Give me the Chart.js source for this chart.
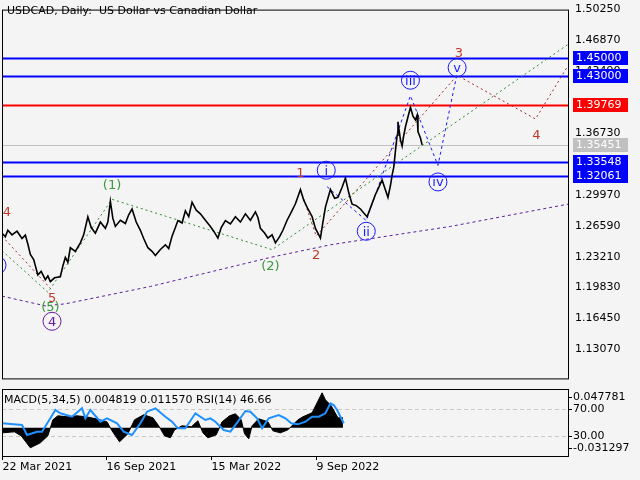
<!DOCTYPE html>
<html>
<head>
<meta charset="utf-8">
<script src="https://cdn.jsdelivr.net/npm/chart.js@4/dist/chart.umd.min.js"></script>
<style>
  html, body { margin: 0; padding: 0; background: #f4f4f4; }
  #wrap { position: relative; width: 640px; height: 480px; }
  #main { position: absolute; left: 0; top: 0; }
  #ind { position: absolute; left: 0; top: 387px; }
</style>
</head>
<body>
<div id="wrap">
  <canvas id="main" width="640" height="388"></canvas>
  <canvas id="ind" width="640" height="93"></canvas>
</div>
<script>
// ---- dados ----
const priceBars = [0,4,7,12,18,24,28,31,34,38,43,47,52,55,58,63,70,73,76,79,82,88,94,98,103,107,112,118,124,127,130,133,136,142,148,152,156,161,166,170,175,180,184,190,196,200,204,208,211,216,220,224,228,233,238,244,250,254,259,263,268,274,280,286,292,298,304,307,310,315,319,324,328,333,337,342,346,352,358,362,367,372,376,379,382,385,388,391,394,399,403,408,412,416,420,425,430,434,438,443,448,452,456,460,463,466,468,470,472,474,475,478,480,482,484,487,490,493,496,498,499,502,504];
const priceClose = [1.2578,1.2540,1.2610,1.2560,1.2600,1.2520,1.2557,1.2460,1.2345,1.2290,1.2122,1.2160,1.2070,1.2110,1.2048,1.2090,1.2101,1.2220,1.2313,1.2260,1.2419,1.2380,1.2472,1.2560,1.2758,1.2640,1.2578,1.2700,1.2631,1.2700,1.2928,1.2740,1.2652,1.2720,1.2684,1.2780,1.2843,1.2700,1.2610,1.2520,1.2419,1.2380,1.2334,1.2400,1.2451,1.2410,1.2546,1.2640,1.2716,1.2690,1.2822,1.2760,1.2917,1.2830,1.2790,1.2720,1.2652,1.2600,1.2525,1.2640,1.2716,1.2680,1.2758,1.2700,1.2790,1.2720,1.2811,1.2750,1.2631,1.2580,1.2525,1.2560,1.2472,1.2540,1.2610,1.2720,1.2790,1.2900,1.3055,1.2940,1.2843,1.2760,1.2631,1.2580,1.2525,1.2700,1.2864,1.2960,1.3055,1.2960,1.2970,1.3080,1.3182,1.3020,1.2896,1.2880,1.2843,1.2800,1.2758,1.2880,1.3002,1.3080,1.3161,1.3050,1.2970,1.3100,1.3214,1.3300,1.3479,1.3650,1.3797,1.3600,1.3532,1.3650,1.3743,1.3850,1.3955,1.3860,1.3817,1.3870,1.3690,1.3620,1.3545];

const levelsBlue = [1.45000, 1.43000, 1.33548, 1.32061];
const levelRed = 1.39769;
const levelLast = 1.35451;
const priceTicks = [1.50250,1.46870,1.43490,1.36730,1.29970,1.26590,1.23210,1.19830,1.16450,1.13070];

// linhas de ondas
const purpleBars = [0,52,76,178,322,394,538,679];
const purpleVals = [1.1889,1.1783,1.1805,1.1995,1.2313,1.2451,1.2652,1.2896];
const greenBars = [0,55,132,324,679];
const greenVals = [1.2387,1.1932,1.2949,1.2398,1.4644];
const brownBars = [0,58,100,358,377,546,640,679];
const brownVals = [1.2546,1.1974,null,1.3055,1.2546,1.4305,1.3828,1.4411];
const blueBars = [390,437,490,523,546];
const blueVals = [1.3087,1.2716,1.4082,1.3320,1.4326];

// rótulos: texto, barra, preço, cor, círculo
const waveLabels = [
  ['4', 6, 1.2811, '#c0392b', false],
  ['5', 60, 1.1868, '#c0392b', false],
  ['(5)', 58, 1.1773, '#3a9a3a', false],
  ['4', 60, 1.1614, '#6a1b9a', true],
  ['v', -6, 1.2228, '#1a1aff', true],
  ['(1)', 132, 1.3108, '#3a9a3a', false],
  ['(2)', 322, 1.2228, '#3a9a3a', false],
  ['1', 358, 1.3245, '#c0392b', false],
  ['2', 377, 1.2345, '#c0392b', false],
  ['i', 389, 1.3267, '#1a1aff', true],
  ['ii', 437, 1.2599, '#1a1aff', true],
  ['iii', 490, 1.4252, '#1a1aff', true],
  ['iv', 523, 1.3139, '#1a1aff', true],
  ['v', 546, 1.4389, '#1a1aff', true],
  ['3', 548, 1.4559, '#c0392b', false],
  ['4', 641, 1.3658, '#c0392b', false]
];

// indicadores
const macdBars = [0,15,23,34,46,55,61,67,78,90,101,113,126,132,141,151,159,170,181,188,195,202,207,216,227,235,241,247,257,264,273,280,287,291,296,300,308,319,325,334,343,355,361,372,384,388,395,403,409];
const macdVals = [-0.0078,-0.0062,-0.0124,-0.031,-0.0233,-0.0124,0.0124,0.0186,0.0171,0.0186,0.0171,0.014,0.0093,-0.0047,-0.0217,-0.0093,0.0124,0.0202,0.0155,0.0031,-0.0124,-0.0155,-0.0031,0.0031,0.0016,0.0109,-0.0078,-0.0155,-0.0109,0.0093,0.0186,0.0217,0.0124,-0.0093,-0.0171,0.0031,0.014,0.0093,-0.0047,-0.0078,-0.0031,0.0124,0.0171,0.0233,0.0543,0.0434,0.0341,0.0155,0.0155];
const rsiBars = [0,24,30,42,48,58,64,70,84,96,100,106,118,126,138,146,156,166,174,184,196,204,211,220,232,244,250,256,266,274,283,292,298,306,312,320,332,340,347,355,364,372,380,388,394,398,402,406,410];
const rsiVals = [48.8,46.3,31.5,36.4,36.4,56.2,68.5,63.6,58.6,71,56.2,68.5,51.2,56.2,48.8,36.4,31.5,48.8,66,71,58.6,51.2,41.4,41.4,63.6,53.7,56.2,51.2,38.9,36.4,51.2,67,66,56.2,41.4,56.2,61.1,56.2,48.8,47.3,51.2,58.6,58.6,63.6,78.4,75.9,68.5,58.6,48.8];

const dateBars = [0,125,251,377];
const dateLabels = ['22 Mar 2021','16 Sep 2021','15 Mar 2022','9 Sep 2022'];

const FONT = '"DejaVu Sans", "Liberation Sans", sans-serif';
const pts = (xs, ys) => xs.map((x, i) => ({ x: x, y: ys[i] }));

// eixo direito com largura fixa
function fixWidth(w) { return function (s) { s.width = w; }; }

// ---- plugin do gráfico principal ----
const mainDecor = {
  id: 'mainDecor',
  beforeDraw(chart) {
    const { ctx } = chart;
    ctx.save();
    ctx.fillStyle = '#f4f4f4';
    ctx.fillRect(0, 0, chart.width, chart.height);
    ctx.restore();
  },
  beforeDatasetsDraw(chart) {
    const { ctx, chartArea: a, scales: { y } } = chart;
    ctx.save();
    const hline = (v, c, w) => {
      const py = Math.round(y.getPixelForValue(v)) + 0.5;
      ctx.strokeStyle = c; ctx.lineWidth = w;
      ctx.beginPath(); ctx.moveTo(a.left, py); ctx.lineTo(a.right, py); ctx.stroke();
    };
    hline(levelLast, '#c0c0c0', 1);
    levelsBlue.forEach(v => hline(v, '#0000ff', 2));
    hline(levelRed, '#ff0000', 2);
    ctx.restore();
  },
  afterDraw(chart) {
    const { ctx, chartArea: a, scales: { x, y } } = chart;
    ctx.save();
    // rótulos das ondas
    ctx.beginPath(); ctx.rect(a.left, a.top, a.right - a.left, a.bottom - a.top); ctx.clip();
    ctx.font = '13px ' + FONT;
    ctx.textAlign = 'center'; ctx.textBaseline = 'middle';
    waveLabels.forEach(([t, b, p, c, circ]) => {
      const px = x.getPixelForValue(b), py = y.getPixelForValue(p);
      if (circ) {
        ctx.strokeStyle = c; ctx.lineWidth = 1;
        ctx.beginPath(); ctx.arc(px, py, 9, 0, Math.PI * 2); ctx.stroke();
      }
      ctx.fillStyle = c;
      ctx.fillText(t, px, py + 1);
    });
    ctx.restore();

    ctx.save();
    // moldura
    ctx.strokeStyle = '#000'; ctx.lineWidth = 1;
    ctx.strokeRect(a.left + 0.5, a.top + 0.5, a.right - a.left, a.bottom - a.top);
    // título
    ctx.fillStyle = '#000'; ctx.font = '11px ' + FONT;
    ctx.textAlign = 'left'; ctx.textBaseline = 'middle';
    ctx.fillText('USDCAD, Daily:  US Dollar vs Canadian Dollar', 7, 11);
    // caixas de preço
    const box = (v, bg, fg) => {
      const py = Math.round(y.getPixelForValue(v));
      ctx.fillStyle = bg; ctx.fillRect(a.right + 5, py - 7, 55, 14);
      ctx.fillStyle = fg; ctx.font = '11px ' + FONT;
      ctx.fillText(v.toFixed(5), a.right + 8, py + 0.5);
    };
    box(levelLast, '#c0c0c0', '#ffffff');
    levelsBlue.forEach(v => box(v, '#0000ff', '#ffffff'));
    box(levelRed, '#ff0000', '#ffffff');
    ctx.restore();
  }
};

const dotted = (data, color, dash) => ({
  type: 'line', data: data, borderColor: color, borderWidth: 1,
  borderDash: dash, pointRadius: 0, spanGaps: false, order: 2
});

new Chart(document.getElementById('main'), {
  type: 'line',
  data: {
    datasets: [
      { data: pts(priceBars, priceClose), borderColor: '#000', borderWidth: 1.6, pointRadius: 0, tension: 0, order: 1 },
      dotted(pts(purpleBars, purpleVals), '#5b1f9e', [3, 3]),
      dotted(pts(greenBars, greenVals), '#2e8b2e', [2, 3]),
      dotted(pts(brownBars, brownVals), '#a52a2a', [2, 3]),
      dotted(pts(blueBars, blueVals), '#1a1aff', [3, 3])
    ]
  },
  options: {
    responsive: false, animation: false,
    layout: { padding: { left: 2, top: 4, bottom: 2, right: 0 } },
    plugins: { legend: { display: false }, tooltip: { enabled: false } },
    scales: {
      x: { type: 'linear', min: 0, max: 679, display: false },
      y: {
        position: 'right', min: 1.0989, max: 1.5025,
        afterFit: fixWidth(72),
        afterBuildTicks: s => { s.ticks = priceTicks.map(v => ({ value: v })); },
        grid: { display: false, drawTicks: true, tickLength: 4, tickColor: '#000' },
        border: { display: false },
        ticks: { color: '#000', font: { family: FONT, size: 11 }, padding: 3,
                 callback: v => v.toFixed(5) }
      }
    }
  },
  plugins: [mainDecor]
});

// ---- painel de indicadores ----
const indDecor = {
  id: 'indDecor',
  beforeDraw(chart) {
    const { ctx } = chart;
    ctx.save(); ctx.fillStyle = '#f4f4f4'; ctx.fillRect(0, 0, chart.width, chart.height); ctx.restore();
  },
  beforeDatasetsDraw(chart) {
    const { ctx, chartArea: a, scales: { rsi } } = chart;
    ctx.save();
    ctx.strokeStyle = '#c8c8c8'; ctx.setLineDash([4, 3]); ctx.lineWidth = 1;
    [70, 30].forEach(v => {
      const py = Math.round(rsi.getPixelForValue(v)) + 0.5;
      ctx.beginPath(); ctx.moveTo(a.left, py); ctx.lineTo(a.right, py); ctx.stroke();
    });
    ctx.restore();
  },
  afterDraw(chart) {
    const { ctx, chartArea: a, scales: { x, rsi, macd } } = chart;
    ctx.save();
    ctx.strokeStyle = '#000'; ctx.lineWidth = 1;
    ctx.strokeRect(a.left + 0.5, a.top + 0.5, a.right - a.left, a.bottom - a.top);
    ctx.fillStyle = '#000'; ctx.font = '11px ' + FONT;
    ctx.textAlign = 'left'; ctx.textBaseline = 'middle';
    ctx.fillText('MACD(5,34,5) 0.004819 0.011570 RSI(14) 46.66', 4, a.top + 11);
    // escala direita
    const rt = [[macd, 0.047781, '0.047781'], [rsi, 70, '70.00'], [rsi, 30, '30.00'], [macd, -0.031297, '-0.031297']];
    rt.forEach(([s, v, t]) => {
      const py = Math.round(s.getPixelForValue(v)) + 0.5;
      ctx.beginPath(); ctx.moveTo(a.right, py); ctx.lineTo(a.right + 4, py); ctx.stroke();
      ctx.fillText(t, a.right + 5, py);
    });
    // datas
    ctx.textBaseline = 'top';
    dateBars.forEach((b, i) => {
      const px = Math.round(x.getPixelForValue(b)) + 0.5;
      ctx.beginPath(); ctx.moveTo(px, a.bottom); ctx.lineTo(px, a.bottom + 4); ctx.stroke();
      ctx.fillText(dateLabels[i], px, a.bottom + 6);
    });
    ctx.restore();
  }
};

new Chart(document.getElementById('ind'), {
  type: 'line',
  data: {
    datasets: [
      { data: pts(macdBars, macdVals), yAxisID: 'macd', borderColor: '#000', borderWidth: 1,
        backgroundColor: '#000', fill: 'origin', pointRadius: 0, tension: 0, order: 2 },
      { data: pts(rsiBars, rsiVals), yAxisID: 'rsi', borderColor: '#1e90ff', borderWidth: 2,
        pointRadius: 0, tension: 0, order: 1 }
    ]
  },
  options: {
    responsive: false, animation: false,
    layout: { padding: { left: 2, top: 2, bottom: 24, right: 0 } },
    plugins: { legend: { display: false }, tooltip: { enabled: false } },
    scales: {
      x: { type: 'linear', min: 0, max: 679, display: false },
      macd: { position: 'right', min: -0.0437, max: 0.0602, display: false },
      rsi: { position: 'right', min: 0.4, max: 99.6, display: true, afterFit: fixWidth(72),
             ticks: { display: false }, grid: { display: false }, border: { display: false } }
    }
  },
  plugins: [indDecor]
});
</script>
</body>
</html>
